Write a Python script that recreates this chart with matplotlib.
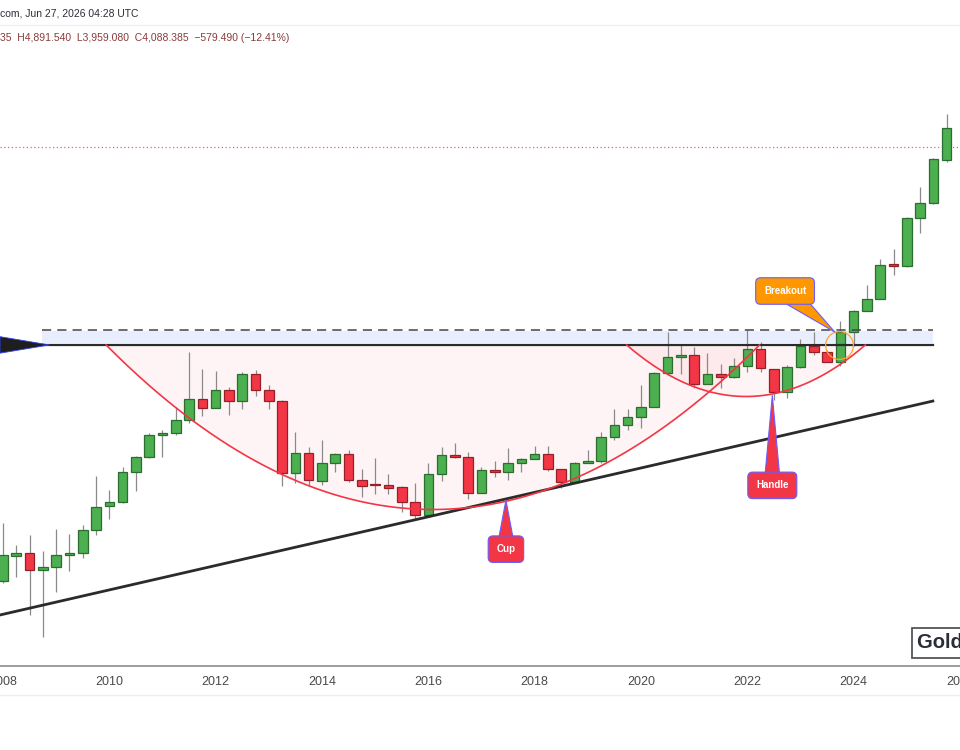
import matplotlib.pyplot as plt
import numpy as np
import pandas as pd

plt.rcParams['font.family'] = ['Liberation Sans', 'DejaVu Sans']

# quarterly gold candles, 2008 Q1 .. 2025 Q4
opens = [825, 907, 916, 860, 870, 909, 916, 997, 1089, 1105, 1235, 1304,
         1415, 1425, 1495, 1615, 1562, 1670, 1603, 1771, 1670, 1603, 1230, 1324,
         1195, 1276, 1319, 1199, 1180, 1177, 1168, 1105, 1054, 1226, 1314, 1304,
         1142, 1244, 1235, 1276, 1295, 1319, 1249, 1190, 1276, 1285, 1405, 1468,
         1512, 1568, 1778, 1886, 1899, 1707, 1771, 1752, 1824, 1942, 1804, 1658,
         1817, 1964, 1921, 1852, 2067, 2234, 2335, 2656, 2636, 3146, 3325, 3895]
highs = [1023, 943, 979, 922, 1001, 983, 1016, 1217, 1155, 1258, 1309, 1425,
         1441, 1568, 1921, 1804, 1790, 1688, 1784, 1797, 1701, 1610, 1430, 1354,
         1389, 1324, 1339, 1249, 1299, 1226, 1173, 1186, 1276, 1354, 1374, 1329,
         1258, 1285, 1349, 1299, 1359, 1359, 1249, 1281, 1339, 1430, 1557, 1557,
         1701, 1784, 2067, 1971, 1957, 1913, 1838, 1879, 2083, 1993, 1804, 1831,
         2014, 2067, 1935, 2153, 2242, 2458, 2705, 2807, 3158, 3527, 3924, 4615]
lows = [820, 839, 729, 672, 793, 857, 899, 979, 1038, 1101, 1151, 1300,
        1304, 1415, 1479, 1517, 1562, 1523, 1557, 1633, 1557, 1173, 1186, 1173,
        1177, 1235, 1190, 1126, 1138, 1138, 1065, 1042, 1050, 1195, 1300, 1117,
        1142, 1212, 1199, 1235, 1295, 1240, 1164, 1190, 1276, 1276, 1390, 1441,
        1452, 1568, 1765, 1771, 1683, 1707, 1683, 1746, 1784, 1784, 1609, 1621,
        1810, 1899, 1852, 1824, 1964, 2234, 2335, 2550, 2627, 2977, 3307, 3867]
closes = [909, 916, 860, 870, 909, 916, 997, 1085, 1105, 1235, 1304, 1415,
          1425, 1495, 1615, 1562, 1670, 1603, 1771, 1670, 1603, 1230, 1324, 1199,
          1276, 1319, 1199, 1173, 1177, 1164, 1105, 1054, 1226, 1314, 1304, 1142,
          1244, 1235, 1276, 1295, 1319, 1249, 1190, 1276, 1285, 1405, 1468, 1512,
          1568, 1778, 1886, 1899, 1707, 1771, 1752, 1824, 1942, 1810, 1658, 1817,
          1964, 1921, 1852, 2067, 2234, 2335, 2646, 2636, 3146, 3325, 3910, 4382]

tick_years = list(range(2008, 2027, 2))
last_price = 4088.385

# drawing levels
neckline = 1971
resistance = 2083
band_low = 1985
trend_start = (2007.944, 729)
trend_end = (2025.49, 1603)
cup = (2009.94, 2022.23, 1075)      # left, right, bottom price
handle = (2019.73, 2024.22, 1630)
breakout_pt = (2023.73, 1971)

GREEN, GREEN_EDGE = '#4caf50', '#2c6e30'
RED, RED_EDGE = '#f23645', '#962029'

periods = pd.period_range('2008Q1', periods=len(opens), freq='Q')
x = np.asarray(periods.year + (periods.quarter - 1) / 4.0, dtype=float)
o, h, l, c = map(np.asarray, (opens, highs, lows, closes))

fig = plt.figure(figsize=(9.6, 7.5), dpi=100)
ax = fig.add_axes([0, 84 / 750, 1, 666 / 750])
ax.set_yscale('log')
ax.set_xlim(2007.944, 2025.824)
ax.set_ylim(604.1, 7022)


def arc(x0, x1, top, low, n=300):
    xs = np.linspace(x0, x1, n)
    t = 1 - ((xs - (x0 + x1) / 2) / ((x1 - x0) / 2)) ** 2
    return xs, np.exp(np.log(top) + (np.log(low) - np.log(top)) * t)


# cup and handle shading
cx, cy = arc(cup[0], cup[1], neckline, cup[2])
hx, hy = arc(handle[0], handle[1], neckline, handle[2])
ax.fill_between(cx, cy, neckline, color=RED, alpha=0.05, lw=0, zorder=1)
ax.fill_between(hx, hy, neckline, color=RED, alpha=0.05, lw=0, zorder=1)

# resistance band
ax.fill_between([2008.726, trend_end[0]], band_low, resistance - 8,
                color='#2962ff', alpha=0.1, lw=0, zorder=1)

# candles
up = c >= o
ax.vlines(x, l, h, color='#8a8a8a', lw=0.9, zorder=2)
ax.bar(x, np.abs(c - o), bottom=np.minimum(o, c), width=0.18,
       color=np.where(up, GREEN, RED), edgecolor=np.where(up, GREEN_EDGE, RED_EDGE),
       lw=0.9, zorder=3)

# lines
ax.plot([2007.944, trend_end[0]], [neckline, neckline], color='#2b2b2b', lw=1.6, zorder=4)
ax.plot([2008.726, trend_end[0]], [resistance, resistance], color='#444444', lw=1.1,
        ls=(0, (6, 4)), zorder=4)
ax.plot([trend_start[0], trend_end[0]], [trend_start[1], trend_end[1]],
        color='#2b2b2b', lw=2.0, zorder=4)
ax.fill([2007.944, 2007.944, 2008.875], [2032, 1912, neckline],
        fc='#1e1e1e', ec='#3344ff', lw=0.6, zorder=4)
ax.plot(cx, cy, color=RED, lw=1.2, zorder=4)
ax.plot(hx, hy, color=RED, lw=1.2, zorder=4)
ax.axhline(last_price, color='#f23645', lw=0.9, ls=(0, (1, 2)), alpha=0.8, zorder=2)
ax.plot(*breakout_pt, marker='o', ms=20, mfc='none', mec='#ffa726', mew=0.9, zorder=5)


def callout(text, tip, box, color, tail):
    ax.annotate(text, xy=tip, xytext=box, ha='center', va='center',
                color='white', fontsize=7, fontweight='bold', zorder=6,
                bbox=dict(boxstyle='round,pad=0.85,rounding_size=0.5',
                          fc=color, ec='#6a5cff', lw=0.8),
                arrowprops=dict(arrowstyle=f'wedge,tail_width={tail}', fc=color,
                                ec='#6a5cff', lw=0.8, shrinkA=0, shrinkB=0,
                                patchA=None))


callout('Cup', (2017.46, 1113), (2017.46, 929), RED, 1.9)
callout('Handle', (2022.47, 1636), (2022.47, 1175), RED, 1.7)
callout('Breakout', (2023.645, 2067), (2022.71, 2404), '#ff9800', 2.2)

# axes styling
for side in ('left', 'right', 'top'):
    ax.spines[side].set_visible(False)
ax.spines['bottom'].set_color('#8c8c8c')
ax.spines['bottom'].set_linewidth(1.2)
ax.set_yticks([])
ax.yaxis.set_minor_locator(plt.NullLocator())
ax.set_xticks(tick_years)
ax.set_xticklabels([str(y) for y in tick_years])
ax.tick_params(axis='x', length=0, pad=7, labelsize=9, labelcolor='#4a4a4a')

# header and watermark
fig.text(0, 1 - 14 / 750, 'com, Jun 27, 2026 04:28 UTC', fontsize=7.5,
         color='#2a2e39', va='center', ha='left')
fig.text(0, 1 - 38 / 750,
         '35  H4,891.540  L3,959.080  C4,088.385  \u2212579.490 (\u221212.41%)',
         fontsize=7.5, color='#8b3a3a', va='center', ha='left')
fig.add_artist(plt.Line2D([0, 1], [1 - 25 / 750] * 2, color='#f0f0f0', lw=1))
fig.add_artist(plt.Line2D([0, 1], [1 - 695 / 750] * 2, color='#efefef', lw=1))
fig.text(917 / 960, 1 - 643 / 750, 'Gold Price', fontsize=14.5, fontweight='bold',
         color='#2a2e39', va='center', ha='left',
         bbox=dict(boxstyle='square,pad=0.25', fc='white', ec='#555555', lw=1.3))

fig.savefig('out.png', dpi=100)
